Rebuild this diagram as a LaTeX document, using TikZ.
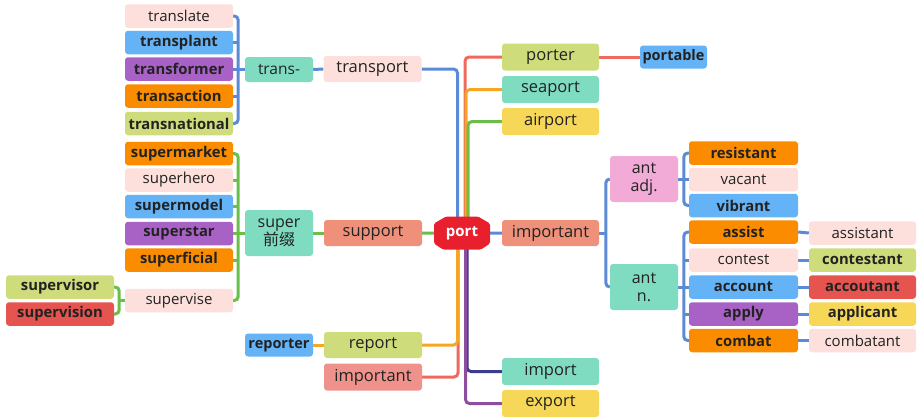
\documentclass[tikz,border=0pt]{standalone}
\usepackage{fontspec}
\setmainfont{Open Sans}
\newfontfamily\cjk{Noto Sans CJK SC}
\newcommand\medium{\normalfont}
\pgfdeclarelayer{bg}
\pgfsetlayers{bg,main}
\definecolor{pale}{HTML}{FDE0DC}
\definecolor{cblue}{HTML}{64B3F6}
\definecolor{cpurple}{HTML}{A862C6}
\definecolor{corange}{HTML}{FB8C00}
\definecolor{clime}{HTML}{CFDC7C}
\definecolor{cteal}{HTML}{80DCC0}
\definecolor{cyellow}{HTML}{F7D757}
\definecolor{csalmon}{HTML}{EF907A}
\definecolor{csalmonb}{HTML}{F0928C}
\definecolor{cred}{HTML}{E5544F}
\definecolor{cpink}{HTML}{F2ABD7}
\definecolor{portred}{HTML}{E8202E}
\definecolor{txt}{HTML}{222222}
\definecolor{lblue}{HTML}{5B8AD6}
\definecolor{lgreen}{HTML}{6ABF4B}
\definecolor{lorange}{HTML}{F5A623}
\definecolor{lred}{HTML}{EE6A5C}
\definecolor{lpurple}{HTML}{8E4EA0}
\definecolor{lnavy}{HTML}{3B3B8F}
\tikzset{
  box/.style={rectangle, rounded corners=3pt, inner sep=0pt, text=txt, align=center},
  leaf/.style={box, minimum width=108pt, minimum height=23.5pt, font=\fontsize{15}{16}\selectfont},
  bleaf/.style={leaf, font=\fontsize{14.8}{16}\selectfont\bfseries},
  mid/.style={box, minimum width=98pt, minimum height=26pt, font=\medium\fontsize{16.5}{17}\selectfont},
  small/.style={box, minimum width=68pt, minimum height=24pt, font=\medium\fontsize{15.5}{16}\selectfont},
  tall/.style={box, minimum width=68pt, minimum height=46pt, font=\medium\fontsize{16}{18}\selectfont},
  conn/.style={line width=3pt, rounded corners=4pt},
}
\begin{document}
\begin{tikzpicture}[x=1pt,y=-1pt]
\useasboundingbox (0,0) rectangle (917,418);
% left trans group
\node[leaf, fill=pale] (translate) at (179,16) {translate};
\node[bleaf, fill=cblue] (transplant) at (179,42.5) {transplant};
\node[bleaf, fill=cpurple] (transformer) at (179,69) {transformer};
\node[bleaf, fill=corange] (transaction) at (179,96) {transaction};
\node[bleaf, fill=clime] (transnational) at (179,123.5) {transnational};
\node[small, fill=cteal, minimum height=25pt] (trans) at (279,69.5) {trans-};
\node[mid, fill=pale] (transport) at (372.5,69) {transport};
% super group
\node[bleaf, fill=corange] (supermarket) at (179,153.5) {supermarket};
\node[leaf, fill=pale] (superhero) at (179,180) {superhero};
\node[bleaf, fill=cblue] (supermodel) at (179,206.5) {supermodel};
\node[bleaf, fill=cpurple] (superstar) at (179,233.5) {superstar};
\node[bleaf, fill=corange] (superficial) at (179,260) {superficial};
\node[leaf, fill=pale] (supervise) at (179,300.5) {supervise};
\node[tall, fill=cteal] (super) at (279,233) {super\\{\cjk 前缀}};
\node[mid, fill=csalmon] (support) at (373,233) {support};
\node[bleaf, fill=clime] (supervisor) at (60,287) {supervisor};
\node[bleaf, fill=cred] (supervision) at (60,314) {supervision};
% report
\node[small, fill=cblue, minimum height=23pt, font=\fontsize{14.5}{16}\selectfont\bfseries] (reporter) at (279,345) {reporter};
\node[mid, fill=clime] (report) at (373,345) {report};
\node[mid, fill=csalmonb, minimum height=27pt] (importantb) at (373,377) {important};
% centre
\coordinate (pc) at (462,233.5);
\fill[portred, rounded corners=1.5pt] ([shift={(-19pt,-16pt)}]pc) -- ([shift={(19pt,-16pt)}]pc) -- ([shift={(28pt,-10pt)}]pc) -- ([shift={(28pt,10pt)}]pc) -- ([shift={(16pt,17pt)}]pc) -- ([shift={(-16pt,17pt)}]pc) -- ([shift={(-28pt,10pt)}]pc) -- ([shift={(-28pt,-10pt)}]pc) -- cycle;
\node[box, text=white, font=\fontsize{15}{16}\selectfont\bfseries, minimum width=53pt, minimum height=33pt] (port) at (pc) {port};
% right column 1
\node[mid, fill=clime, minimum width=97pt, minimum height=27pt] (porter) at (550.5,57) {porter};
\node[mid, fill=cteal, minimum width=97pt, minimum height=27pt] (seaport) at (550.5,89.5) {seaport};
\node[mid, fill=cyellow, minimum width=97pt, minimum height=27pt] (airport) at (550.5,121.5) {airport};
\node[mid, fill=csalmon, minimum width=97pt] (important) at (550.5,233) {important};
\node[mid, fill=cteal, minimum width=97pt, minimum height=27pt] (import) at (550.5,371.5) {import};
\node[mid, fill=cyellow, minimum width=97pt, minimum height=27pt] (export) at (550.5,403.5) {export};
\node[small, fill=cblue, minimum width=67pt, minimum height=23pt, font=\fontsize{14.5}{16}\selectfont\bfseries] (portable) at (673.5,57) {portable};
% ant groups
\node[tall, fill=cpink] (antadj) at (644,179) {ant\\adj.};
\node[tall, fill=cteal] (antn) at (644,287) {ant\\n.};
\node[bleaf, fill=corange, minimum width=109pt] (resistant) at (743.5,153) {resistant};
\node[leaf, fill=pale, minimum width=109pt] (vacant) at (743.5,179.5) {vacant};
\node[bleaf, fill=cblue, minimum width=109pt] (vibrant) at (743.5,205.5) {vibrant};
\node[bleaf, fill=corange, minimum width=109pt] (assist) at (743.5,232) {assist};
\node[leaf, fill=pale, minimum width=109pt] (contest) at (743.5,260) {contest};
\node[bleaf, fill=cblue, minimum width=109pt] (account) at (743.5,287) {account};
\node[bleaf, fill=cpurple, minimum width=109pt] (apply) at (743.5,314) {apply};
\node[bleaf, fill=corange, minimum width=109pt] (combat) at (743.5,340.5) {combat};
\node[leaf, fill=pale, minimum width=107pt] (assistant) at (862.5,233) {assistant};
\node[bleaf, fill=clime, minimum width=107pt] (contestant) at (862.5,260) {contestant};
\node[bleaf, fill=cred, minimum width=107pt] (accoutant) at (862.5,287) {accoutant};
\node[bleaf, fill=cyellow, minimum width=107pt] (applicant) at (862.5,314) {applicant};
\node[leaf, fill=pale, minimum width=107pt] (combatant) at (862.5,340.5) {combatant};

\begin{pgfonlayer}{bg}
% trans bracket
\draw[conn, lblue] (translate.east) -- ++(5,0) |- (transnational.east);
\foreach \n in {transplant,transformer,transaction} \draw[conn, lblue] (\n.east) -- ++(5,0);
\draw[conn, lblue] (trans.west) -- ++(-8,0);
\draw[conn, lblue] (trans.east) -- (transport.west);
% super bracket
\draw[conn, lgreen] (supermarket.east) -- ++(5,0) |- (supervise.east);
\foreach \n in {superhero,supermodel,superstar,superficial} \draw[conn, lgreen] (\n.east) -- ++(5,0);
\draw[conn, lgreen] (super.west) -- ++(-8,0);
\draw[conn, lgreen] (super.east) -- (support.west);
\draw[conn, lgreen] (supervisor.east) -- ++(5,0) |- (supervision.east);
\draw[conn, lgreen] (supervise.west) -- ++(-7,0);
% report
\draw[conn, lorange] (reporter.east) -- (report.west);
\draw[conn, lred] (porter.east) -- (portable.west);
% to port
\draw[conn, lblue] (transport.east) -| ([xshift=-4.5pt]pc);
\draw[conn, lred] (porter.west) -| ([xshift=3pt]pc);
\draw[conn, lorange] (seaport.west) -| ([xshift=4pt]pc);
\draw[conn, lgreen] (airport.west) -| ([xshift=6pt]pc);
\draw[conn, lgreen] (support.east) -- (pc);
\draw[conn, lblue] (pc) -- (important.west);
\draw[conn, lred] (importantb.east) -| ([xshift=-4pt]pc);
\draw[conn, lorange] (report.east) -| ([xshift=-4.5pt]pc);
\draw[conn, lnavy] (import.west) -| ([xshift=5pt]pc);
\draw[conn, lpurple] (export.west) -| ([xshift=3.5pt]pc);
% right brackets
\draw[conn, lblue] (important.east) -- ++(7,0);
\draw[conn, lblue] (antadj.west) -- ++(-4,0) |- (antn.west);
\draw[conn, lblue] (resistant.west) -- ++(-5,0) |- (vibrant.west);
\draw[conn, lblue] (vacant.west) -- ++(-5,0);
\draw[conn, lblue] (antadj.east) -- ++(6,0);
\draw[conn, lblue] (assist.west) -- ++(-5,0) |- (combat.west);
\foreach \n in {contest,account,apply} \draw[conn, lblue] (\n.west) -- ++(-5,0);
\draw[conn, lblue] (antn.east) -- ++(6,0);
\draw[conn, lblue] (assist.east) -- (assistant.west);
\draw[conn, lblue] (contest.east) -- (contestant.west);
\draw[conn, lblue] (account.east) -- (accoutant.west);
\draw[conn, lblue] (apply.east) -- (applicant.west);
\draw[conn, lblue] (combat.east) -- (combatant.west);
\end{pgfonlayer}
\end{tikzpicture}
\end{document}
